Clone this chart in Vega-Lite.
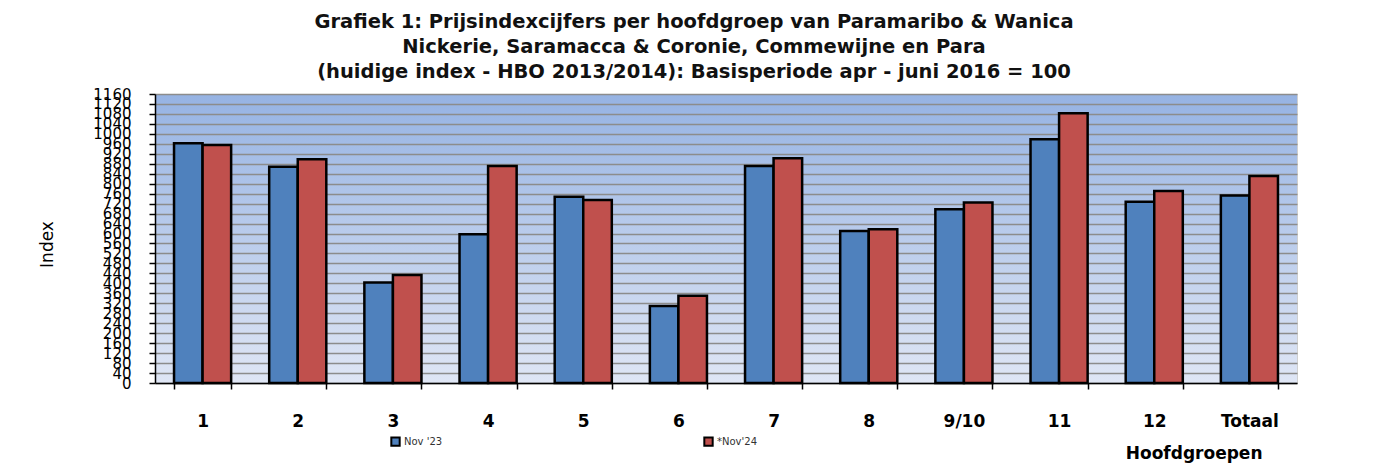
{
  "$schema": "https://vega.github.io/schema/vega-lite/v6.json",
  "autosize": "none",
  "width": 1142,
  "height": 289,
  "padding": {"left": 155, "top": 94, "right": 83, "bottom": 81},
  "background": "white",
  "title": {
    "text": ["Grafiek 1: Prijsindexcijfers per hoofdgroep van Paramaribo & Wanica", "Nickerie, Saramacca & Coronie, Commewijne en Para", "(huidige index - HBO 2013/2014): Basisperiode apr - juni 2016 = 100"],
    "font": "DejaVu Sans",
    "fontSize": 19.5,
    "fontWeight": "bold",
    "color": "#111111",
    "lineHeight": 25,
    "anchor": "middle",
    "dx": -32,
    "offset": 5
  },
  "data": {
    "values": [
      {"groep": "1", "periode": "Nov '23", "index": 962},
      {"groep": "1", "periode": "*Nov'24", "index": 955},
      {"groep": "2", "periode": "Nov '23", "index": 868},
      {"groep": "2", "periode": "*Nov'24", "index": 898},
      {"groep": "3", "periode": "Nov '23", "index": 403},
      {"groep": "3", "periode": "*Nov'24", "index": 433},
      {"groep": "4", "periode": "Nov '23", "index": 597},
      {"groep": "4", "periode": "*Nov'24", "index": 871},
      {"groep": "5", "periode": "Nov '23", "index": 748},
      {"groep": "5", "periode": "*Nov'24", "index": 735},
      {"groep": "6", "periode": "Nov '23", "index": 309},
      {"groep": "6", "periode": "*Nov'24", "index": 350},
      {"groep": "7", "periode": "Nov '23", "index": 871},
      {"groep": "7", "periode": "*Nov'24", "index": 902},
      {"groep": "8", "periode": "Nov '23", "index": 610},
      {"groep": "8", "periode": "*Nov'24", "index": 617},
      {"groep": "9/10", "periode": "Nov '23", "index": 697},
      {"groep": "9/10", "periode": "*Nov'24", "index": 724},
      {"groep": "11", "periode": "Nov '23", "index": 978},
      {"groep": "11", "periode": "*Nov'24", "index": 1083},
      {"groep": "12", "periode": "Nov '23", "index": 728},
      {"groep": "12", "periode": "*Nov'24", "index": 771},
      {"groep": "Totaal", "periode": "Nov '23", "index": 753},
      {"groep": "Totaal", "periode": "*Nov'24", "index": 831}
    ]
  },
  "mark": {"type": "bar", "stroke": "#000000", "strokeWidth": 2.5, "strokeJoin": "miter"},
  "encoding": {
    "x": {
      "field": "groep",
      "type": "nominal",
      "sort": null,
      "scale": {"paddingInner": 0.4, "paddingOuter": 0.2},
      "axis": {
        "title": "Hoofdgroepen",
        "labelAngle": 0,
        "labelFont": "DejaVu Sans",
        "labelFontSize": 17,
        "labelFontWeight": "bold",
        "labelColor": "#000000",
        "labelPadding": 24,
        "tickBand": "extent",
        "tickSize": 6,
        "tickColor": "#000000",
        "tickWidth": 1.5,
        "domainColor": "#000000",
        "domainWidth": 1.5,
        "titleFont": "DejaVu Sans",
        "titleFontSize": 17,
        "titleFontWeight": "bold",
        "titleColor": "#000000",
        "titleAnchor": "end",
        "titleAlign": "right",
        "titleBaseline": "middle",
        "titleX": 1107,
        "titleY": 70
      }
    },
    "xOffset": {"field": "periode", "type": "nominal", "sort": ["Nov '23", "*Nov'24"]},
    "y": {
      "field": "index",
      "type": "quantitative",
      "scale": {"domain": [0, 1160], "nice": false},
      "axis": {
        "title": "Index",
        "format": "d",
        "values": [0, 40, 80, 120, 160, 200, 240, 280, 320, 360, 400, 440, 480, 520, 560, 600, 640, 680, 720, 760, 800, 840, 880, 920, 960, 1000, 1040, 1080, 1120, 1160],
        "labelOverlap": false,
        "labelFont": "DejaVu Sans",
        "labelFontSize": 15,
        "labelColor": "#000000",
        "labelPadding": 18,
        "tickSize": 6,
        "tickColor": "#000000",
        "tickWidth": 1.5,
        "domainColor": "#000000",
        "domainWidth": 1.5,
        "grid": true,
        "gridColor": "#8c8c8c",
        "gridWidth": 1.5,
        "titleFont": "DejaVu Sans",
        "titleFontSize": 17,
        "titleFontWeight": "normal",
        "titleColor": "#000000",
        "titleX": -108,
        "titleY": 150,
        "titleAngle": -90,
        "titleAlign": "center",
        "titleBaseline": "middle"
      }
    },
    "color": {
      "field": "periode",
      "type": "nominal",
      "sort": ["Nov '23", "*Nov'24"],
      "scale": {"domain": ["Nov '23", "*Nov'24"], "range": ["#4f81bd", "#c0504d"]},
      "legend": {
        "title": null,
        "orient": "none",
        "direction": "horizontal",
        "legendX": 235,
        "legendY": 342,
        "symbolType": "square",
        "symbolSize": 70,
        "symbolStrokeColor": "#000000",
        "symbolStrokeWidth": 2,
        "symbolOpacity": 1,
        "labelFont": "DejaVu Sans",
        "labelFontSize": 10,
        "labelColor": "#333333",
        "labelOffset": 3,
        "columnPadding": 257
      }
    }
  },
  "config": {
    "view": {
      "stroke": "#d0d0d0",
      "fill": {
        "gradient": "linear",
        "x1": 0, "y1": 0, "x2": 0, "y2": 1,
        "stops": [
          {"offset": 0, "color": "#96b3e3"},
          {"offset": 1, "color": "#dfe6f5"}
        ]
      }
    }
  }
}
